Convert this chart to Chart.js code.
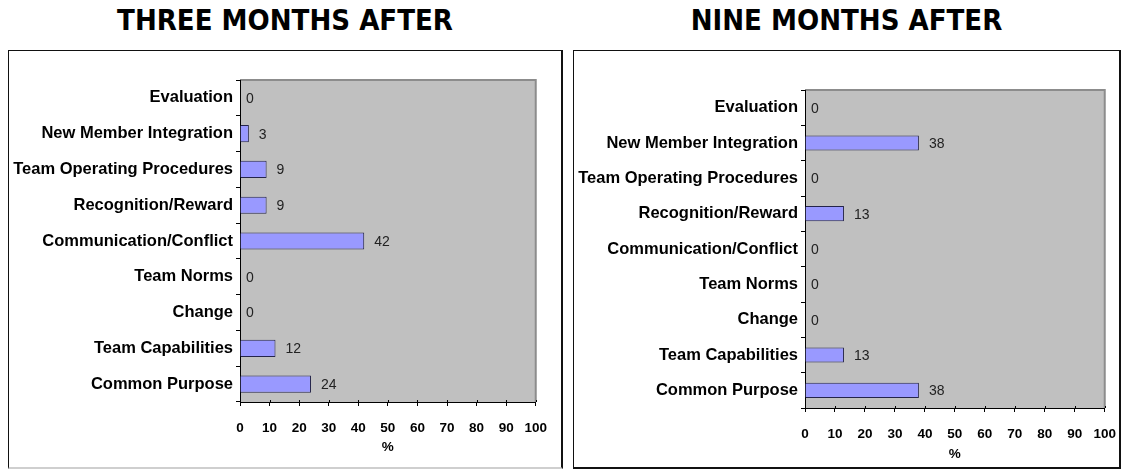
<!DOCTYPE html>
<html>
<head>
<meta charset="utf-8">
<script src="https://cdn.jsdelivr.net/npm/chart.js@4/dist/chart.umd.min.js"></script>
<style>
  html, body { margin: 0; padding: 0; background: #fff; width: 1122px; height: 470px; overflow: hidden; }
  .title {
    position: absolute; top: 2px; height: 36px; line-height: 36px;
    font-family: "DejaVu Sans", sans-serif; font-weight: bold;
    font-size: 29px; color: #000; text-align: center; white-space: nowrap;
    transform: scaleX(0.9); transform-origin: center;
  }
  .box { position: absolute; top: 50px; height: 416px; border: 1px solid #111; border-width: 1px 2px 2px 1px; }
  canvas { position: absolute; left: 0; top: 0; }
</style>
</head>
<body>
<div class="title" style="left:8px;width:554px;">THREE MONTHS AFTER</div>
<div class="title" style="left:573px;width:547px;">NINE MONTHS AFTER</div>
<div class="box" style="left:8px;width:552px;border-bottom-color:#cfcfcf;"><canvas id="c3" width="552" height="416"></canvas></div>
<div class="box" style="left:573px;width:545px;"><canvas id="c9" width="556" height="416"></canvas></div>
<script>
// Team-development topics, listed top to bottom
const categories = [
  'Evaluation',
  'New Member Integration',
  'Team Operating Procedures',
  'Recognition/Reward',
  'Communication/Conflict',
  'Team Norms',
  'Change',
  'Team Capabilities',
  'Common Purpose'
];
// Percent of responses per topic
const threeMonths = [0, 3, 9, 9, 42, 0, 0, 12, 24];
const nineMonths = [0, 38, 0, 13, 0, 0, 0, 13, 38];
// Percentage axis
const axisMin = 0;
const axisMax = 100;
const axisStep = 10;
const axisTitle = '%';

Chart.defaults.font.family = '"Liberation Sans", Arial, sans-serif';
Chart.defaults.color = '#000';

// Grey plot background with a darker rim on top and right
const plotBackground = {
  id: 'plotBackground',
  beforeDraw(chart) {
    const { ctx, chartArea: a } = chart;
    ctx.save();
    ctx.fillStyle = '#c0c0c0';
    ctx.fillRect(a.left, a.top, a.right - a.left, a.bottom - a.top);
    ctx.strokeStyle = '#8c8c8c';
    ctx.lineWidth = 2;
    ctx.beginPath();
    ctx.moveTo(a.left, a.top);
    ctx.lineTo(a.right, a.top);
    ctx.lineTo(a.right, a.bottom);
    ctx.stroke();
    ctx.restore();
  }
};

// Short tick stubs that poke up into the plot from the value axis
const innerTicks = {
  id: 'innerTicks',
  afterDraw(chart) {
    const { ctx, chartArea: a } = chart;
    const xs = chart.scales.x;
    ctx.save();
    ctx.strokeStyle = '#000';
    ctx.lineWidth = 1;
    xs.ticks.forEach(t => {
      const px = Math.round(xs.getPixelForValue(t.value)) + 0.5;
      ctx.beginPath();
      ctx.moveTo(px, a.bottom - 2);
      ctx.lineTo(px, a.bottom);
      ctx.stroke();
    });
    ctx.restore();
  }
};

// Value printed just past the end of each bar
const valueLabels = {
  id: 'valueLabels',
  afterDatasetsDraw(chart) {
    const { ctx } = chart;
    ctx.save();
    ctx.font = '14px "Liberation Sans", Arial, sans-serif';
    ctx.fillStyle = '#222';
    ctx.textAlign = 'left';
    ctx.textBaseline = 'middle';
    chart.data.datasets.forEach((ds, di) => {
      chart.getDatasetMeta(di).data.forEach((bar, i) => {
        const v = ds.data[i];
        const gap = v === 0 ? 6 : 10;
        ctx.fillText(String(v), bar.x + gap, bar.y + 1);
      });
    });
    ctx.restore();
  }
};

function makeChart(id, values, opts) {
  return new Chart(document.getElementById(id), {
    type: 'bar',
    data: {
      labels: categories,
      datasets: [{
        data: values,
        backgroundColor: '#9999ff',
        borderColor: '#24244a',
        borderWidth: 1,
        borderSkipped: 'start',
        barPercentage: opts.barPct,
        categoryPercentage: 1
      }]
    },
    options: {
      indexAxis: 'y',
      responsive: false,
      animation: false,
      events: [],
      layout: { padding: { left: 0, right: opts.padRight, top: opts.padTop, bottom: 0 } },
      plugins: { legend: { display: false }, tooltip: { enabled: false } },
      scales: {
        y: {
          grid: { display: true, drawOnChartArea: false, drawTicks: true, tickLength: 4, color: '#000', offset: true },
          border: { display: true, color: '#000', width: 1 },
          ticks: { font: { size: 16.5, weight: 'bold' }, color: '#000', padding: 3, autoSkip: false },
          afterFit(scale) { scale.width = 231; }
        },
        x: {
          min: axisMin,
          max: axisMax,
          grid: { display: true, drawOnChartArea: false, drawTicks: true, tickLength: 4, color: '#000' },
          border: { display: true, color: '#000', width: 1 },
          ticks: { stepSize: axisStep, font: { size: 13.5, weight: 'bold' }, color: '#000', padding: 14, maxRotation: 0 },
          title: { display: true, text: axisTitle, font: { size: 13.5, weight: 'bold' }, color: '#000', padding: { top: 0, bottom: opts.titlePad } },
          afterFit(scale) { scale.height = opts.xHeight; }
        }
      }
    },
    plugins: [plotBackground, innerTicks, valueLabels]
  });
}

makeChart('c3', threeMonths, { padTop: 29, padRight: 24, xHeight: 65, titlePad: 12, barPct: 0.48 });
makeChart('c9', nineMonths, { padTop: 39, padRight: 25, xHeight: 59, titlePad: 5, barPct: 0.43 });
</script>
</body>
</html>
